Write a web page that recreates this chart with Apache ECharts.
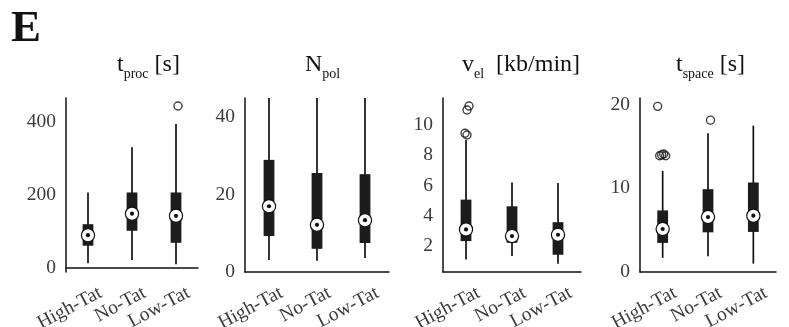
<!DOCTYPE html>
<html>
<head>
<meta charset="utf-8">
<script src="https://cdn.jsdelivr.net/npm/echarts@6/dist/echarts.min.js"></script>
<style>
  html, body { margin: 0; padding: 0; background: #fff; }
  #chart { width: 789px; height: 327px; }
</style>
</head>
<body>
<div id="chart"></div>
<script>
// Groups shown on every panel
const categories = ['High-Tat', 'No-Tat', 'Low-Tat'];

// t_proc [s]
const tprocLow = [13, 22, 10];
const tprocQ1 = [61, 102, 69];
const tprocMedian = [90, 149, 143];
const tprocQ3 = [120, 207, 207];
const tprocHigh = [207, 331, 395];
const tprocOutliers = [[2, 444]];
const tprocTicks = [0, 200, 400];

// N_pol
const npolLow = [3.1, 2.9, 3.6];
const npolQ1 = [9.3, 6.0, 7.5];
const npolMedian = [17.0, 12.2, 13.4];
const npolQ3 = [29.0, 25.6, 25.3];
const npolHigh = [45, 45, 45];
const npolOutliers = [];
const npolTicks = [0, 20, 40];

// v_el [kb/min]
const velLow = [1.12, 1.34, 0.84];
const velQ1 = [2.33, 2.22, 1.43];
const velMedian = [3.1, 2.66, 2.75];
const velQ3 = [5.07, 4.63, 3.58];
const velHigh = [9.0, 6.2, 6.17];
const velOutliers = [[0, 11.25], [0, 10.99], [0, 9.45], [0, 9.34]];
const velTicks = [2, 4, 6, 8, 10];

// t_space [s]
const tspaceLow = [1.69, 1.88, 1.0];
const tspaceQ1 = [3.48, 4.74, 4.79];
const tspaceMedian = [5.14, 6.57, 6.73];
const tspaceQ3 = [7.36, 9.9, 10.7];
const tspaceHigh = [12.1, 16.6, 17.5];
const tspaceOutliers = [[0, 19.8], [0, 13.9], [0, 14.0], [0, 14.1], [0, 13.9], [1, 18.15]];
const tspaceTicks = [0, 10, 20];

// horizontal spread of overlapping outlier circles (pixels)
const outlierJitter = [
  [2],
  [],
  [3, 1, -1, 1],
  [-5, -3, -1, 1, 3, 2.5]
];

const SERIF = '"Liberation Serif", "Times New Roman", serif';
const INK = '#111';
const LABEL = '#3a3a3a';

const panels = [
  { low: tprocLow, q1: tprocQ1, med: tprocMedian, q3: tprocQ3, high: tprocHigh, out: tprocOutliers,
    ticks: tprocTicks, min: -11, max: 466, left: 66, width: 132,
    title: { x: 117, main: 't', sub: 'proc', unit: ' [s]' } },
  { low: npolLow, q1: npolQ1, med: npolMedian, q3: npolQ3, high: npolHigh, out: npolOutliers,
    ticks: npolTicks, min: 0, max: 45, left: 245, width: 144,
    title: { x: 305, main: 'N', sub: 'pol', unit: '' } },
  { low: velLow, q1: velQ1, med: velMedian, q3: velQ3, high: velHigh, out: velOutliers,
    ticks: velTicks, min: 0.29, max: 11.78, left: 443, width: 138,
    title: { x: 462, main: 'v', sub: 'el', unit: '  [kb/min]' } },
  { low: tspaceLow, q1: tspaceQ1, med: tspaceMedian, q3: tspaceQ3, high: tspaceHigh, out: tspaceOutliers,
    ticks: tspaceTicks, min: 0, max: 20.8, left: 640, width: 136,
    title: { x: 676, main: 't', sub: 'space', unit: ' [s]' } }
];

// box, whisker and median marker for one group
function renderBox(params, api) {
  const x = api.value(0);
  const pLow = api.coord([x, api.value(1)]);
  const pQ1 = api.coord([x, api.value(2)]);
  const pMed = api.coord([x, api.value(3)]);
  const pQ3 = api.coord([x, api.value(4)]);
  const pHigh = api.coord([x, api.value(5)]);
  const cx = pLow[0];
  const halfW = 5.4;
  return {
    type: 'group',
    children: [
      { type: 'line', shape: { x1: cx, y1: pLow[1], x2: cx, y2: pHigh[1] },
        style: { stroke: INK, lineWidth: 1.7 } },
      { type: 'rect', shape: { x: cx - halfW, y: pQ3[1], width: halfW * 2, height: pQ1[1] - pQ3[1] },
        style: { fill: '#1c1c1c' } },
      { type: 'circle', shape: { cx: cx, cy: pMed[1], r: 6.6 },
        style: { fill: '#fff', stroke: INK, lineWidth: 1.2 } },
      { type: 'circle', shape: { cx: cx, cy: pMed[1], r: 2.1 },
        style: { fill: INK } }
    ]
  };
}

const grid = [], xAxis = [], yAxis = [], series = [], graphic = [];

panels.forEach((p, i) => {
  grid.push({
    left: p.left, width: p.width, top: 98, height: 174,
    containLabel: false, outerBoundsMode: 'none'
  });
  xAxis.push({
    type: 'category', gridIndex: i, data: categories, boundaryGap: true,
    axisLine: { lineStyle: { color: INK, width: 1.5 } },
    axisTick: { show: false },
    axisLabel: {
      interval: 0, rotate: 28, margin: 15, align: 'right', verticalAlign: 'top',
      padding: [0, -9, 0, 0],
      fontFamily: SERIF, fontSize: 19.5, color: LABEL
    }
  });
  yAxis.push({
    type: 'value', gridIndex: i, min: p.min, max: p.max,
    splitLine: { show: false },
    axisLine: { show: true, lineStyle: { color: INK, width: 1.5 } },
    axisTick: { show: false },
    axisLabel: {
      customValues: p.ticks, margin: 10,
      fontFamily: SERIF, fontSize: 19.5, color: LABEL
    }
  });
  const rows = categories.map((c, k) => [k, p.low[k], p.q1[k], p.med[k], p.q3[k], p.high[k]]);
  series.push({
    type: 'custom', xAxisIndex: i, yAxisIndex: i,
    renderItem: renderBox, data: rows, clip: true,
    encode: { x: 0, y: [1, 2, 3, 4, 5] }, z: 2
  });
  series.push({
    type: 'scatter', xAxisIndex: i, yAxisIndex: i,
    symbol: 'circle', symbolSize: 8,
    itemStyle: { color: 'rgba(0,0,0,0)', borderColor: INK, borderWidth: 1.4 },
    data: p.out.map((d, k) => ({ value: d, symbolOffset: [outlierJitter[i][k] || 0, 0] })),
    z: 3, silent: true
  });
  graphic.push({
    type: 'text', left: p.title.x, top: 53,
    style: {
      text: '{m|' + p.title.main + '}{s|' + p.title.sub + '}' + (p.title.unit ? '{m|' + p.title.unit + '}' : ''),
      rich: {
        m: { fontFamily: SERIF, fontSize: 24, lineHeight: 28, verticalAlign: 'top', fill: INK },
        s: { fontFamily: SERIF, fontSize: 14, lineHeight: 14, verticalAlign: 'bottom', fill: INK }
      }
    }
  });
});

graphic.push({
  type: 'text', left: 11, top: 7,
  style: { text: 'E', fontFamily: SERIF, fontWeight: 'bold', fontSize: 45, fill: INK }
});

const chart = echarts.init(document.getElementById('chart'), null, { renderer: 'canvas' });
chart.setOption({
  animation: false,
  backgroundColor: '#fff',
  grid, xAxis, yAxis, series, graphic
});
</script>
</body>
</html>
